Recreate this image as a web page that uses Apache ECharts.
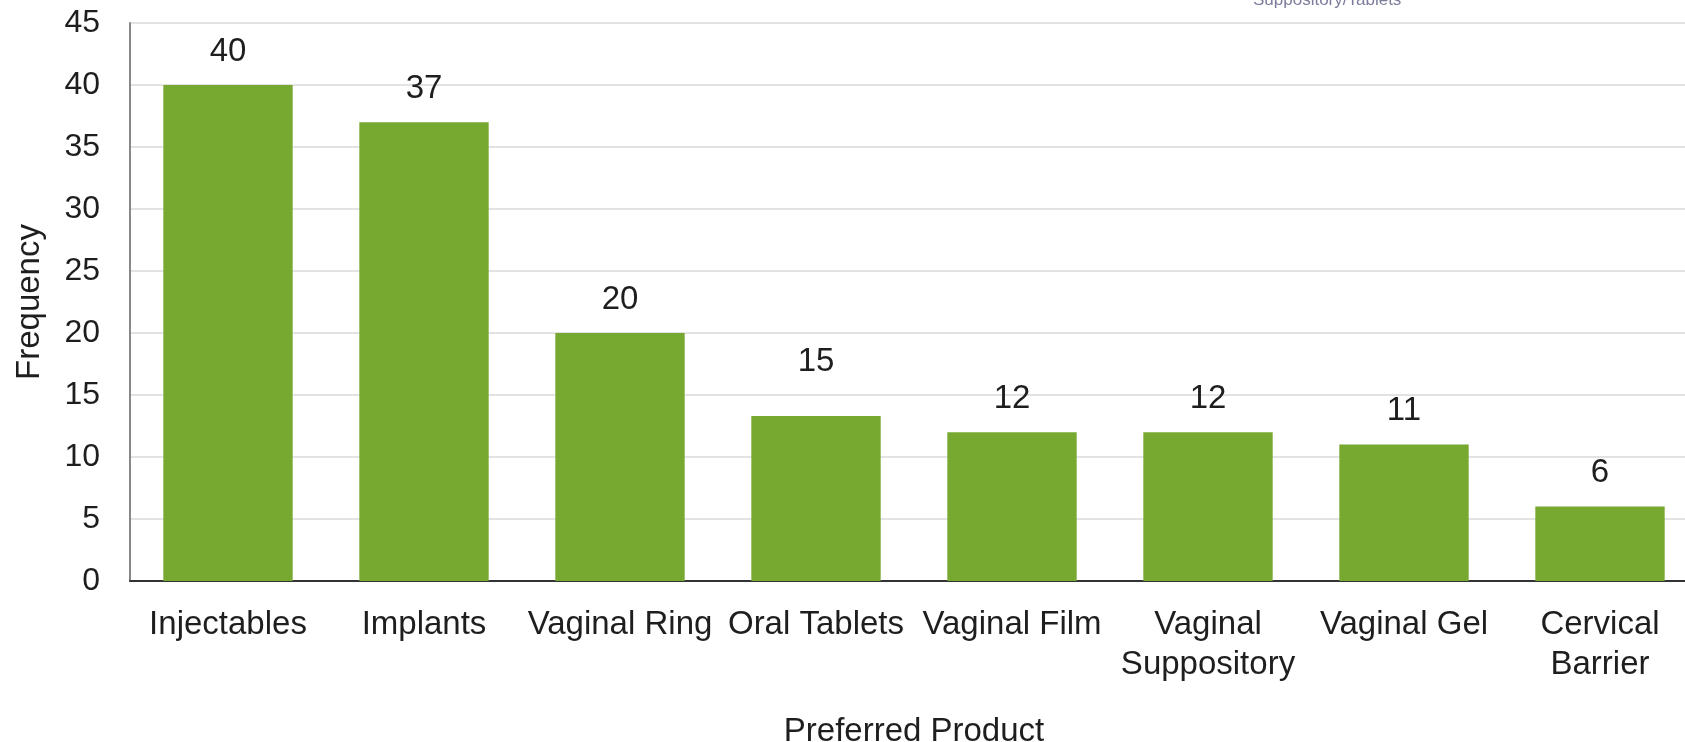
<!DOCTYPE html>
<html>
<head>
<meta charset="utf-8">
<script src="https://cdn.jsdelivr.net/npm/echarts@6/dist/echarts.min.js"></script>
<style>html,body{margin:0;padding:0;background:#fff;}#chart{width:1685px;height:742px;}</style>
</head>
<body>
<div id="chart"></div>
<script>
const categories = ['Injectables', 'Implants', 'Vaginal Ring', 'Oral Tablets', 'Vaginal Film', 'Vaginal\nSuppository', 'Vaginal Gel', 'Cervical\nBarrier'];
const barHeights = [40, 37, 20, 13.3, 12, 12, 11, 6];
const labelValues = [40, 37, 20, 15, 12, 12, 11, 6];
const yTicks = { min: 0, max: 45, interval: 5 };

const font = 'Liberation Sans, Arial, Helvetica, sans-serif';
const chart = echarts.init(document.getElementById('chart'));
chart.setOption({
  animation: false,
  backgroundColor: '#ffffff',
  textStyle: { fontFamily: font },
  grid: { left: 130, top: 23, width: 1568, height: 558, containLabel: false, outerBoundsMode: 'none' },
  xAxis: {
    type: 'category',
    data: categories,
    name: 'Preferred Product',
    nameLocation: 'middle',
    nameGap: 134,
    nameTextStyle: { fontSize: 33, color: '#1e1e1e', fontFamily: font },
    axisLine: { lineStyle: { color: '#333', width: 2 } },
    axisTick: { show: false },
    axisLabel: { interval: 0, fontSize: 33, color: '#1e1e1e', lineHeight: 40, margin: 24, fontFamily: font }
  },
  yAxis: {
    type: 'value',
    min: yTicks.min, max: yTicks.max, interval: yTicks.interval,
    name: 'Frequency',
    nameLocation: 'middle',
    nameGap: 84,
    nameTextStyle: { fontSize: 33, color: '#1e1e1e', fontFamily: font },
    axisLine: { show: true, lineStyle: { color: '#888', width: 2 } },
    axisTick: { show: false },
    axisLabel: { fontSize: 32, color: '#1e1e1e', margin: 30, fontFamily: font, padding: [4, 0, 0, 0] },
    splitLine: { lineStyle: { color: '#e2e2e2', width: 2 } }
  },
  series: [
    {
      type: 'bar',
      data: barHeights,
      barWidth: '66%',
      itemStyle: { color: '#77a830' },
      silent: true
    },
    {
      type: 'bar',
      data: labelValues,
      barWidth: '66%',
      barGap: '-100%',
      itemStyle: { color: 'rgba(0,0,0,0)' },
      silent: true,
      label: { show: true, position: 'top', distance: 17, fontSize: 33, color: '#1e1e1e', fontFamily: font }
    }
  ],
  graphic: [
    {
      type: 'text', left: 1253, top: -8, silent: true,
      style: { text: 'Suppository/Tablets', fontSize: 17, fill: '#7c7c9c', fontFamily: font }
    }
  ]
});
</script>
</body>
</html>
